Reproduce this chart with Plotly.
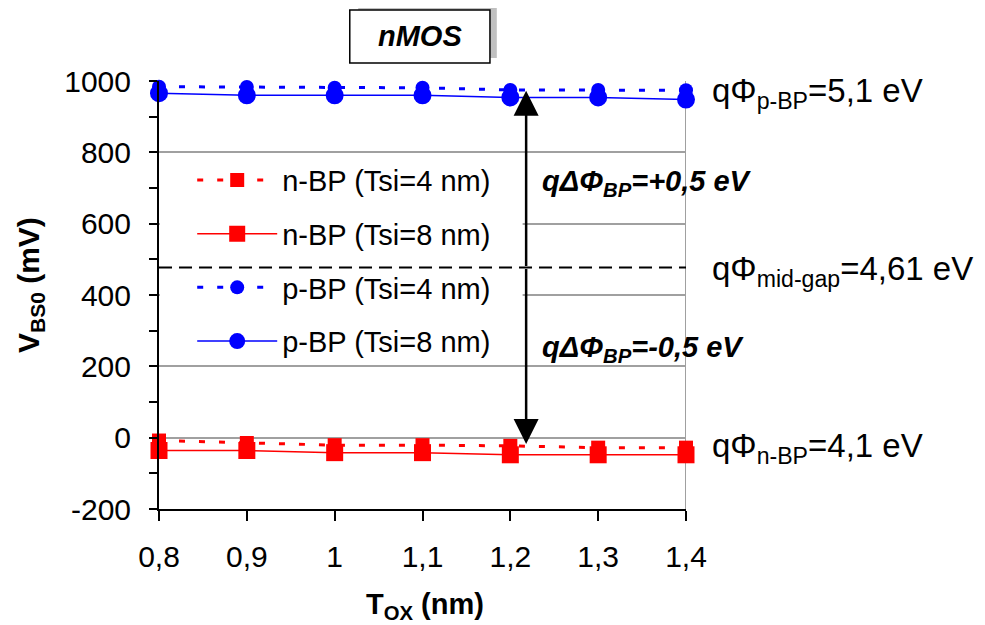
import plotly.graph_objects as go

tox = [0.8, 0.9, 1.0, 1.1, 1.2, 1.3, 1.4]
tox_labels = ["0,8", "0,9", "1", "1,1", "1,2", "1,3", "1,4"]
n_bp_4 = [-8, -15, -21, -21, -23, -28, -28]
n_bp_8 = [-36, -36, -42, -42, -48, -48, -48]
p_bp_4 = [984, 983, 981, 981, 975, 975, 974]
p_bp_8 = [966, 960, 960, 960, 954, 954, 948]
midgap = 477
arrow_x = 1.218
arrow_top = 973
arrow_bottom = -18
y_ticks = [-200, 0, 200, 400, 600, 800, 1000]

FONT = "Liberation Sans, Arial, sans-serif"
RED = "#ff0000"
BLUE = "#0000ff"

fig = go.Figure()
fig.add_trace(go.Scatter(x=tox, y=n_bp_4, name="n-BP (Tsi=4 nm)", mode="lines+markers",
                         line=dict(color=RED, width=3, dash="6px,14px"),
                         marker=dict(symbol="square", size=14, color=RED),
                         legendgroup="a", cliponaxis=False))
fig.add_trace(go.Scatter(x=tox, y=n_bp_8, name="n-BP (Tsi=8 nm)", mode="lines+markers",
                         line=dict(color=RED, width=1.5),
                         marker=dict(symbol="square", size=17, color=RED),
                         legendgroup="b", cliponaxis=False))
fig.add_trace(go.Scatter(x=tox, y=p_bp_4, name="p-BP (Tsi=4 nm)", mode="lines+markers",
                         line=dict(color=BLUE, width=3, dash="6px,14px"),
                         marker=dict(symbol="circle", size=14, color=BLUE),
                         legendgroup="c", cliponaxis=False))
fig.add_trace(go.Scatter(x=tox, y=p_bp_8, name="p-BP (Tsi=8 nm)", mode="lines+markers",
                         line=dict(color=BLUE, width=1.5),
                         marker=dict(symbol="circle", size=18, color=BLUE),
                         legendgroup="d", cliponaxis=False))

shapes = [
    # white area behind legend hiding gridlines
    dict(type="rect", xref="x", yref="y", x0=0.801, x1=arrow_x - 0.004, y0=210, y1=790,
         fillcolor="white", line=dict(width=0), layer="between"),
    # mid-gap dashed line
    dict(type="line", xref="x", yref="y", x0=0.8, x1=1.4, y0=midgap, y1=midgap,
         line=dict(color="black", width=2, dash="13px,7px"), layer="above"),
    # right border line
    dict(type="line", xref="x", yref="y", x0=1.4, x1=1.4, y0=-200, y1=1000,
         line=dict(color="#a0a0a0", width=2), layer="below"),
    # nMOS box shadow and box
    dict(type="rect", xref="paper", yref="paper", x0=0.378, x1=0.641, y0=1.054, y1=1.182,
         fillcolor="#c0c0c0", line=dict(width=0)),
    dict(type="rect", xref="paper", yref="paper", x0=0.362, x1=0.628, y0=1.042, y1=1.166,
         fillcolor="white", line=dict(color="black", width=1.5)),
]

annotations = [
    dict(xref="paper", yref="paper", x=0.495, y=1.104, xanchor="center", yanchor="middle",
         text="<b><i>nMOS</i></b>", showarrow=False,
         font=dict(size=29, color="black", family=FONT)),
    dict(x=arrow_x, y=arrow_top, ax=arrow_x, ay=midgap, xref="x", yref="y", axref="x", ayref="y",
         text="", showarrow=True, arrowhead=2, arrowsize=2.0, arrowwidth=2.5, arrowcolor="black", standoff=0),
    dict(x=arrow_x, y=arrow_bottom, ax=arrow_x, ay=midgap, xref="x", yref="y", axref="x", ayref="y",
         text="", showarrow=True, arrowhead=2, arrowsize=2.0, arrowwidth=2.5, arrowcolor="black", standoff=0),
    dict(x=1.234, y=713, xref="x", yref="y", xanchor="left", yanchor="middle", showarrow=False,
         text="<b><i>qΔΦ<sub>BP</sub>=+0,5 eV</i></b>", font=dict(size=29, color="black", family=FONT)),
    dict(x=1.234, y=249, xref="x", yref="y", xanchor="left", yanchor="middle", showarrow=False,
         text="<b><i>qΔΦ<sub>BP</sub>=-0,5 eV</i></b>", font=dict(size=29, color="black", family=FONT)),
    dict(x=1.046, y=966, xref="paper", yref="y", xanchor="left", yanchor="middle", showarrow=False,
         text="qΦ<sub>p-BP</sub>=5,1 eV", font=dict(size=33, color="black", family=FONT)),
    dict(x=1.046, y=466, xref="paper", yref="y", xanchor="left", yanchor="middle", showarrow=False,
         text="qΦ<sub>mid-gap</sub>=4,61 eV", font=dict(size=33, color="black", family=FONT)),
    dict(x=1.046, y=-28, xref="paper", yref="y", xanchor="left", yanchor="middle", showarrow=False,
         text="qΦ<sub>n-BP</sub>=4,1 eV", font=dict(size=33, color="black", family=FONT)),
    # axis titles
    dict(x=-0.245, y=0.523, xref="paper", yref="paper", xanchor="center", yanchor="middle",
         showarrow=False, textangle=-90,
         text="<b>V<sub>BS0</sub> (mV)</b>", font=dict(size=30, color="black", family=FONT)),
    dict(x=0.505, y=-0.227, xref="paper", yref="paper", xanchor="center", yanchor="middle",
         showarrow=False,
         text="<b>T<sub>OX</sub> (nm)</b>", font=dict(size=29, color="black", family=FONT)),
]

fig.update_layout(
    width=985, height=625,
    margin=dict(l=151, r=307, t=73, b=124),
    paper_bgcolor="white", plot_bgcolor="white",
    font=dict(family=FONT, color="black"),
    shapes=shapes, annotations=annotations,
    showlegend=True,
    legend=dict(x=0.063, y=0.828, xanchor="left", yanchor="top", bgcolor="rgba(0,0,0,0)",
                font=dict(size=29, family=FONT, color="black"), itemwidth=80,
                tracegroupgap=13, traceorder="grouped"),
)
fig.update_xaxes(range=[0.8, 1.4], tickvals=tox, ticktext=tox_labels,
                 showline=True, linecolor="black", linewidth=2, ticks="outside",
                 ticklen=10, tickwidth=2, tickcolor="black", showgrid=False, zeroline=False,
                 tickfont=dict(size=30, family=FONT), mirror=False, ticklabelstandoff=10)
fig.update_yaxes(range=[-200, 1000], tickvals=y_ticks, ticktext=[str(v) for v in y_ticks],
                 showline=True, linecolor="black", linewidth=2, ticks="outside",
                 ticklen=8, tickwidth=2, tickcolor="black",
                 minor=dict(dtick=100, ticks="outside", ticklen=8, tickwidth=2, tickcolor="black", showgrid=False),
                 showgrid=True, gridcolor="#a0a0a0", gridwidth=2, zeroline=False,
                 tickfont=dict(size=30, family=FONT), ticklabelstandoff=12)

fig.write_html("out.html")
